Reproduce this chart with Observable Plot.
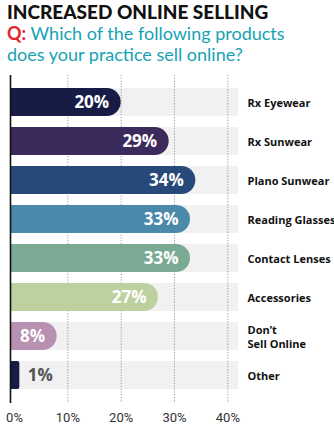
<!DOCTYPE html>
<html>
<head>
<meta charset="utf-8">
<script src="https://cdn.jsdelivr.net/npm/d3@7"></script>
<script src="https://cdn.jsdelivr.net/npm/@observablehq/plot@0.6"></script>
<style>
  body { margin: 0; background: #fff; width: 334px; height: 427px; overflow: hidden; }
  #title { position: absolute; left: 7px; top: 0px; font: 900 19px Lato, sans-serif; line-height: 23px; color: #111; white-space: nowrap; }
  #sub { position: absolute; left: 7px; top: 23px; font: 400 18px Lato, sans-serif; color: #17a2b3; line-height: 21px; white-space: nowrap; }
  #sub b { color: #e3242b; }
  #chart { position: absolute; left: 0; top: 65px; }
</style>
</head>
<body>
<div id="title">INCREASED ONLINE SELLING</div>
<div id="sub"><b>Q:</b> Which of the following products<br>does your practice sell online?</div>
<div id="chart"></div>
<script>
const categories = ["Rx Eyewear", "Rx Sunwear", "Plano Sunwear", "Reading Glasses", "Contact Lenses", "Accessories", "Don’t\nSell Online", "Other"];
const values = [20, 29, 34, 33, 33, 27, 8, 1];
const tickValues = [0, 10, 20, 30, 40];
const bgMax = 42;
const barColors = ["#171c47", "#3b2a5c", "#27497a", "#4a89a9", "#7aaa94", "#bdd1a0", "#b890b2", "#161c45"];

const data = categories.map((c, i) => ({cat: c, v: values[i]}));
const big = data.filter(d => d.v >= 5);
const small = data.filter(d => d.v < 5);

const chart = Plot.plot({
  width: 334,
  height: 362,
  marginTop: 15,
  marginBottom: 30,
  marginLeft: 14,
  marginRight: 96,
  style: {fontFamily: "Roboto, sans-serif", background: "transparent"},
  x: {domain: [0, bgMax], axis: null, label: null},
  y: {domain: categories, axis: null, paddingInner: 0.28, paddingOuter: 0.14},
  color: {domain: categories, range: barColors},
  marks: [
    Plot.barX(data, {y: "cat", x1: 0, x2: () => bgMax, fill: "#f1f1f1", insetLeft: -4}),
    Plot.ruleX(tickValues.filter(t => t > 0), {stroke: "#9a9a9a", strokeDasharray: "1.2,1.6", insetTop: -5, insetBottom: -6}),
    Plot.barX(big, {y: "cat", x1: 0, x2: "v", fill: "cat", rx: 14, insetLeft: -4}),
    Plot.barX(big, {y: "cat", x1: 0, x2: d => d.v / 2, fill: "cat", insetLeft: -4}),
    Plot.barX(small, {y: "cat", x1: 0, x2: "v", fill: "cat", rx: 2, insetLeft: -4}),
    Plot.ruleX([0], {stroke: "#111", strokeWidth: 1.6, dx: -4, insetTop: -5, insetBottom: -6}),
    Plot.text(big, {y: "cat", x: "v", text: d => d.v + "%", textAnchor: "end", dx: -12, fill: "#fff", fontSize: 17, fontWeight: 700, fontFamily: "Open Sans, sans-serif"}),
    Plot.text(small, {y: "cat", x: "v", text: d => d.v + "%", textAnchor: "start", dx: 8, fill: "#555", fontSize: 17, fontWeight: 700, fontFamily: "Open Sans, sans-serif"}),
    Plot.text(data, {y: "cat", text: "cat", frameAnchor: "right", textAnchor: "start", dx: 9, fill: "#111", fontSize: 11, fontWeight: 700, fontFamily: "Open Sans, sans-serif", lineHeight: 1.25}),
    Plot.axisX(tickValues, {tickFormat: d => d + "%", tickSize: 0, tickPadding: 15, fontSize: 13, fill: "#333", fontFamily: "Roboto, sans-serif", label: null})
  ]
});
document.getElementById("chart").appendChild(chart);
</script>
</body>
</html>
